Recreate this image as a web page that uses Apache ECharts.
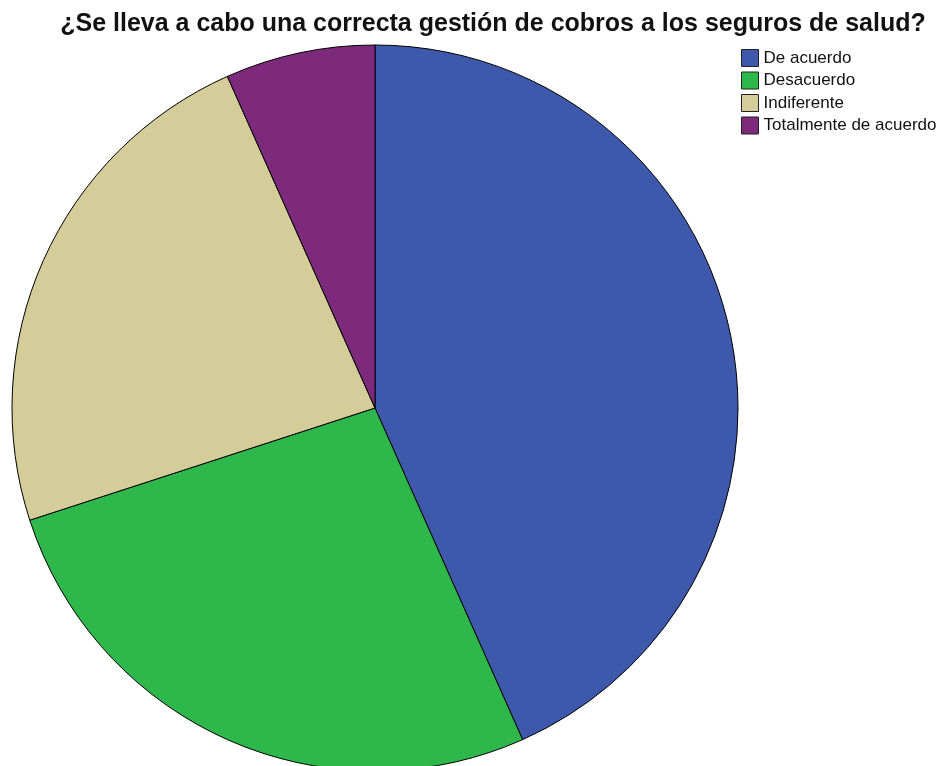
<!DOCTYPE html>
<html>
<head>
<meta charset="utf-8">
<script src="https://cdn.jsdelivr.net/npm/echarts@6/dist/echarts.min.js"></script>
<style>
  html, body { margin: 0; padding: 0; background: #fff; }
  #chart { width: 937px; height: 766px; }
</style>
</head>
<body>
<div id="chart"></div>
<script>
// Survey responses (counts per answer)
var categories = ['De acuerdo', 'Desacuerdo', 'Indiferente', 'Totalmente de acuerdo'];
var counts = [13, 8, 7, 2];
var colors = ['#3E58AC', '#2EB84B', '#D4CC99', '#7D2A7C'];

var chart = echarts.init(document.getElementById('chart'));
chart.setOption({
  animation: false,
  title: {
    text: '¿Se lleva a cabo una correcta gestión de cobros a los seguros de salud?',
    left: 493,
    textAlign: 'center',
    top: 12,
    padding: 0,
    textStyle: { fontFamily: 'Liberation Sans, Arial, sans-serif', fontSize: 25, fontWeight: 'bold', color: '#111' }
  },
  legend: {
    orient: 'vertical',
    left: 741,
    top: 49,
    padding: 0,
    itemWidth: 17,
    itemHeight: 17,
    itemGap: 4.5,
    icon: 'rect',
    itemStyle: { borderColor: '#222', borderWidth: 1 },
    textStyle: { fontFamily: 'Liberation Sans, Arial, sans-serif', fontSize: 17, color: '#111' },
    data: categories
  },
  series: [{
    type: 'pie',
    center: [375, 408],
    radius: 363,
    startAngle: 90,
    clockwise: true,
    label: { show: false },
    labelLine: { show: false },
    emphasis: { disabled: true },
    itemStyle: { borderColor: '#000', borderWidth: 1 },
    data: categories.map(function (c, i) {
      return { name: c, value: counts[i], itemStyle: { color: colors[i] } };
    })
  }]
});
</script>
</body>
</html>
